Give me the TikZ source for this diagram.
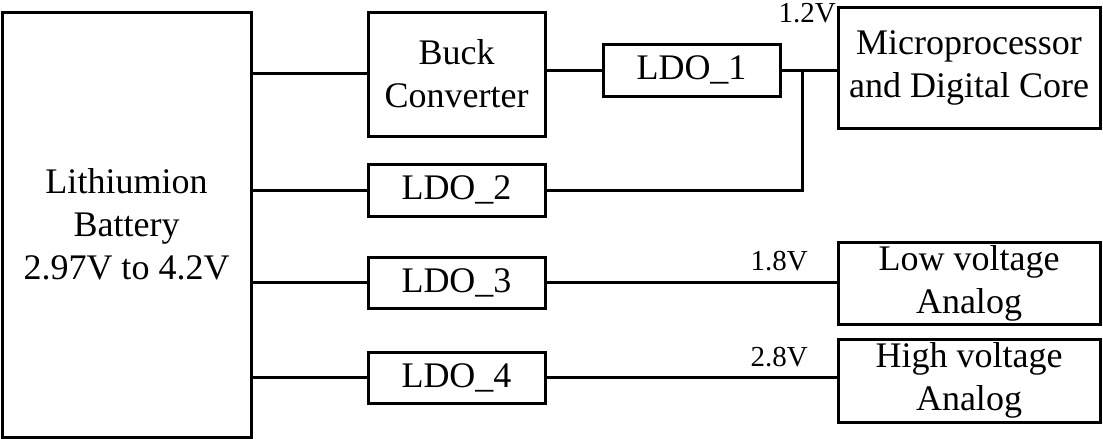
\documentclass[tikz,border=0pt]{standalone}
\usepackage{fontspec}
\setmainfont{Liberation Serif}
\begin{document}
\begin{tikzpicture}[x=1pt,y=1pt,
  blk/.style={draw,line width=3pt,inner sep=0pt,outer sep=0pt,align=center,
    font=\fontsize{36}{43}\selectfont},
  wire/.style={line width=3pt},
  volt/.style={inner sep=0pt,font=\fontsize{29}{35}\selectfont}]
\useasboundingbox (0,0) rectangle (1103,-439);
\node[blk,minimum width=249pt,minimum height=425pt] (bat) at (126.5,-224.5) {Lithiumion\\Battery\\2.97V to 4.2V};
\node[blk,minimum width=177pt,minimum height=124pt] (buck) at (456.5,-74) {Buck\\Converter};
\node[blk,minimum width=177pt,minimum height=52pt] (ldo1) at (691.5,-70) {LDO\_1};
\node[blk,minimum width=262pt,minimum height=121pt] (mpu) at (969,-67.5) {Microprocessor\\and Digital Core};
\node[blk,minimum width=177pt,minimum height=52pt] (ldo2) at (456.5,-190) {LDO\_2};
\node[blk,minimum width=177pt,minimum height=51pt] (ldo3) at (456.5,-282.5) {LDO\_3};
\node[blk,minimum width=177pt,minimum height=51pt] (ldo4) at (456.5,-377.5) {LDO\_4};
\node[blk,minimum width=262pt,minimum height=82pt] (low) at (969,-283) {Low voltage\\Analog};
\node[blk,minimum width=262pt,minimum height=83pt] (high) at (969,-380.5) {High voltage\\Analog};
\coordinate (j) at (802,-70);
\draw[wire] (bat.east |- 0,-73) -- (buck.west |- 0,-73);
\draw[wire] (buck.east |- ldo1.west) -- (ldo1.west);
\draw[wire] (ldo1.east) -- (ldo1.east -| mpu.west);
\draw[wire] (j) -- (j |- ldo2.east) -- (ldo2.east);
\draw[wire] (bat.east |- ldo2.west) -- (ldo2.west);
\draw[wire] (bat.east |- ldo3.west) -- (ldo3.west);
\draw[wire] (ldo3.east) -- (ldo3.east -| low.west);
\draw[wire] (bat.east |- ldo4.west) -- (ldo4.west);
\draw[wire] (ldo4.east) -- (ldo4.east -| high.west);
\node[volt,anchor=base east] (v12) at (836,-22) {1.2V};
\node[volt,anchor=base east] (v18) at (808,-270) {1.8V};
\node[volt,anchor=base east] (v28) at (808,-366) {2.8V};
\end{tikzpicture}
\end{document}
